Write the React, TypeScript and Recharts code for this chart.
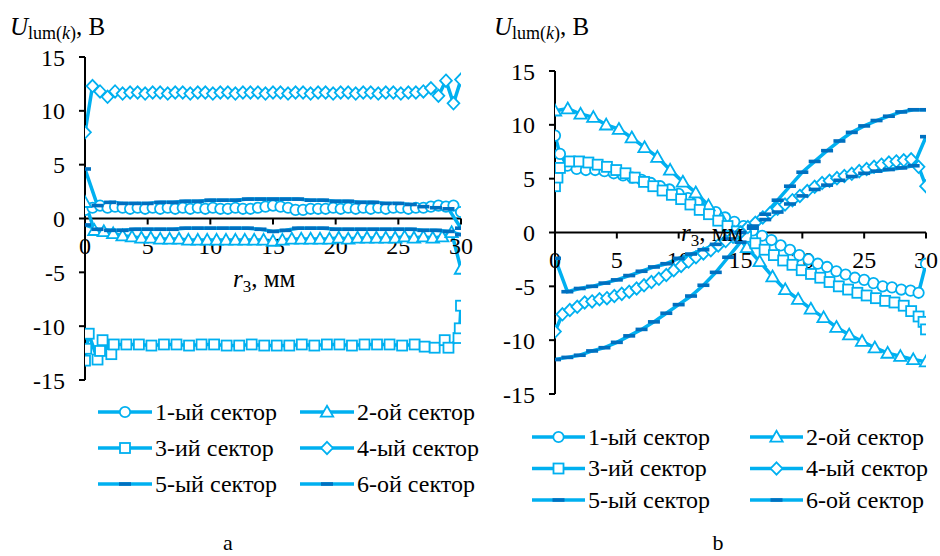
import React from 'react';
import { LineChart, Line, XAxis, YAxis, ReferenceLine, ReferenceDot, Legend } from 'recharts';

const LIGHT = '#00B0F0';
const DARK = '#0070C0';
const FONT = "'Liberation Serif', 'Times New Roman', Times, serif";

const SERIES_NAMES = ['1-ый сектор', '2-ой сектор', '3-ий сектор', '4-ый сектор', '5-ый сектор', '6-ой сектор'];
const MARKERS = ['circle', 'triangle', 'square', 'diamond', 'dash', 'dash'];
const X_TICKS = [0, 5, 10, 15, 20, 25, 30];
const Y_TICKS = [-15, -10, -5, 0, 5, 10, 15];

// shared position grids (r3, mm)
const X_FINE = [0, 0.6, 1.2, 1.8, 2.4, 3, 3.6, 4.2, 4.8, 5.4, 6, 6.6, 7.2, 7.8, 8.4, 9, 9.6, 10.2, 10.8, 11.4, 12, 12.6, 13.2, 13.8, 14.4, 15, 15.6, 16.2, 16.8, 17.4, 18, 18.6, 19.2, 19.8, 20.4, 21, 21.6, 22.2, 22.8, 23.4, 24, 24.6, 25.2, 25.8, 26.4, 27, 27.6, 28.2, 28.8, 29.4, 30];
const X_MID = [0, 0.75, 1.5, 2.25, 3, 3.75, 4.5, 5.25, 6, 6.75, 7.5, 8.25, 9, 9.75, 10.5, 11.25, 12, 12.75, 13.5, 14.25, 15, 15.75, 16.5, 17.25, 18, 18.75, 19.5, 20.25, 21, 21.75, 22.5, 23.25, 24, 24.75, 25.5, 26.25, 27, 27.75, 28.5, 29.25, 30];
const X_INT = [0, 1, 2, 3, 4, 5, 6, 7, 8, 9, 10, 11, 12, 13, 14, 15, 16, 17, 18, 19, 20, 21, 22, 23, 24, 25, 26, 27, 28, 29, 30];

// ---- panel a ----
const A1_Y = [0.8, 1.0, 1.2, 1.0, 1.1, 1.0, 0.9, 1.0, 0.9, 1.0, 0.9, 1.0, 0.9, 1.0, 0.9, 1.0, 0.9, 1.0, 0.9, 0.9, 1.0, 0.9, 0.9, 1.0, 1.1, 1.2, 1.1, 1.0, 0.8, 0.8, 0.9, 0.9, 0.9, 1.0, 0.9, 1.0, 0.9, 1.0, 0.9, 1.0, 0.9, 1.0, 1.0, 0.9, 1.0, 1.0, 1.1, 1.2, 1.1, 1.2, 0.6];
const A2_Y = [1.5, -1.1, -1.2, -1.4, -1.6, -1.7, -1.8, -1.8, -1.9, -1.9, -1.9, -2.0, -2.0, -2.0, -2.0, -2.0, -2.0, -2.0, -2.0, -2.0, -2.1, -2.0, -1.9, -1.9, -1.9, -1.9, -1.9, -1.8, -1.9, -1.8, -1.8, -1.8, -1.8, -1.8, -1.7, -1.8, -1.7, -1.8, -1.7, -1.3, -4.7];
const A3_X = [0, 0.1, 0.3, 1.0, 1.2, 1.4, 2.1, 2.3, 3.3, 4.3, 5.3, 6.3, 7.3, 8.3, 9.3, 10.3, 11.3, 12.3, 13.3, 14.3, 15.3, 16.3, 17.3, 18.3, 19.3, 20.3, 21.3, 22.3, 23.3, 24.3, 25.3, 26.3, 27.1, 27.9, 28.7, 29.0, 29.8, 29.9, 30];
const A3_Y = [-13.2, -12.1, -10.7, -13.1, -12.3, -11.3, -12.6, -11.7, -11.7, -11.7, -11.8, -11.7, -11.7, -11.8, -11.7, -11.7, -11.8, -11.8, -11.7, -11.8, -11.8, -11.8, -11.7, -11.8, -11.7, -11.7, -11.8, -11.7, -11.7, -11.7, -11.8, -11.7, -11.9, -12.0, -11.3, -12.0, -11.1, -10.2, -8.1];
const A4_Y = [8.0, 12.3, 11.8, 11.3, 11.8, 11.6, 11.7, 11.7, 11.6, 11.7, 11.7, 11.6, 11.7, 11.7, 11.6, 11.7, 11.7, 11.6, 11.7, 11.7, 11.6, 11.7, 11.7, 11.7, 11.6, 11.7, 11.7, 11.6, 11.7, 11.7, 11.6, 11.7, 11.7, 11.6, 11.7, 11.7, 11.6, 11.7, 11.7, 11.6, 11.7, 11.7, 11.6, 11.7, 11.7, 11.8, 12.1, 11.4, 12.8, 10.7, 12.9];
const A5_Y = [4.6, 1.2, 1.5, 1.4, 1.4, 1.4, 1.5, 1.5, 1.6, 1.6, 1.7, 1.7, 1.7, 1.8, 1.8, 1.8, 1.8, 1.8, 1.7, 1.7, 1.6, 1.6, 1.5, 1.5, 1.4, 1.4, 1.3, 1.1, 1.0, 0.9, -0.9];
const A6_Y = [-0.6, -1.0, -1.1, -1.1, -1.0, -1.0, -1.0, -1.0, -0.9, -0.9, -0.9, -0.9, -0.9, -0.9, -1.0, -1.2, -1.1, -0.9, -0.9, -0.9, -1.0, -1.0, -1.0, -1.0, -1.0, -1.0, -1.0, -1.1, -1.1, -1.2, -1.5];

// ---- panel b ----
const B1_X = [0, 0.4, 1, 1.75, 2.5, 3.25, 4, 4.75, 5.5, 6.25, 7, 7.75, 8.5, 9.25, 10, 10.75, 11.5, 12.25, 13, 13.75, 14.5, 15.25, 16, 16.75, 17.5, 18.25, 19, 19.75, 20.5, 21.25, 22, 22.75, 23.5, 24.25, 25, 25.75, 26.5, 27.25, 28, 28.75, 29.4, 30];
const B1_Y = [9.0, 7.3, 6.2, 5.9, 5.8, 5.8, 5.7, 5.5, 5.3, 5.1, 4.9, 4.6, 4.3, 4.0, 3.6, 3.2, 2.8, 2.3, 1.9, 1.4, 1.0, 0.6, 0.2, -0.3, -0.7, -1.2, -1.6, -2.1, -2.5, -2.9, -3.2, -3.6, -3.9, -4.2, -4.4, -4.7, -5.0, -5.1, -5.3, -5.4, -5.6, -2.9];
const B2_X = [0, 1.03, 2.07, 3.1, 4.14, 5.17, 6.21, 7.24, 8.28, 9.31, 10.34, 11.38, 12.41, 13.45, 14.48, 15.52, 16.55, 17.59, 18.62, 19.66, 20.69, 21.72, 22.76, 23.79, 24.83, 25.86, 26.9, 27.93, 28.97, 30];
const B2_Y = [11.3, 11.5, 11.0, 10.7, 10.0, 9.6, 8.8, 7.9, 7.0, 5.8, 4.7, 3.7, 2.5, 1.3, 0.0, -1.4, -2.7, -4.1, -5.3, -6.2, -7.1, -7.9, -8.8, -9.5, -10.1, -10.7, -11.2, -11.5, -11.8, -12.0];
const B3_X = [0, 0.2, 0.4, 1.2, 1.95, 2.7, 3.45, 4.2, 4.95, 5.7, 6.45, 7.2, 7.95, 8.7, 9.45, 10.2, 10.95, 11.7, 12.45, 13.2, 13.95, 14.7, 15.45, 16.2, 16.95, 17.7, 18.45, 19.2, 19.95, 20.7, 21.45, 22.2, 22.95, 23.7, 24.45, 25.2, 25.95, 26.7, 27.45, 28.2, 28.8, 29.4, 29.8, 30];
const B3_Y = [4.3, 5.1, 6.0, 6.6, 6.6, 6.5, 6.3, 6.1, 5.8, 5.5, 5.1, 4.7, 4.3, 3.9, 3.5, 3.1, 2.6, 2.1, 1.7, 1.1, 0.6, 0.1, -0.4, -1.0, -1.6, -2.1, -2.6, -3.0, -3.5, -3.85, -4.2, -4.6, -5.0, -5.3, -5.6, -5.85, -6.1, -6.35, -6.5, -6.8, -7.3, -7.8, -8.3, -9.0];
const B4_Y = [-9.2, -7.6, -7.2, -6.9, -6.5, -6.4, -6.2, -6.1, -5.9, -5.7, -5.5, -5.2, -4.9, -4.6, -4.3, -3.95, -3.5, -3.1, -2.7, -2.3, -1.95, -1.65, -1.2, -0.8, -0.4, 0.0, 0.5, 0.9, 1.4, 1.8, 2.2, 2.6, 3.0, 3.4, 3.85, 4.25, 4.6, 4.8, 5.05, 5.25, 5.45, 5.7, 5.9, 6.1, 6.3, 6.5, 6.6, 6.7, 6.8, 6.1, 4.3];
const B5_Y = [-11.8, -11.6, -11.4, -11.0, -10.7, -10.2, -9.6, -9.0, -8.3, -7.5, -6.7, -5.9, -4.9, -3.7, -2.3, -0.9, 0.4, 1.7, 3.0, 4.3, 5.6, 6.6, 7.6, 8.5, 9.3, 9.9, 10.4, 10.8, 11.2, 11.4, 11.4];
const B6_Y = [-2.4, -5.5, -5.2, -5.0, -4.7, -4.4, -4.0, -3.6, -3.2, -2.9, -2.4, -2.0, -1.6, -1.1, -0.6, 0.0, 0.6, 1.2, 1.9, 2.65, 3.4, 4.0, 4.4, 4.85, 5.2, 5.5, 5.7, 5.85, 6.0, 6.2, 8.9];

type Pt = { x: number; y: number };
const zip = (xs: number[], ys: number[]): Pt[] => xs.map((x, i) => ({ x, y: ys[i] }));

const PANEL_A: Pt[][] = [
  zip(X_FINE, A1_Y), zip(X_MID, A2_Y), zip(A3_X, A3_Y),
  zip(X_FINE, A4_Y), zip(X_INT, A5_Y), zip(X_INT, A6_Y),
];
const PANEL_B: Pt[][] = [
  zip(B1_X, B1_Y), zip(B2_X, B2_Y), zip(B3_X, B3_Y),
  zip(X_FINE, B4_Y), zip(X_INT, B5_Y), zip(X_INT, B6_Y),
];

function renderMarker(kind: string, cx: number, cy: number, key?: string | number) {
  if (cx == null || cy == null || isNaN(cx) || isNaN(cy)) return <g key={key} />;
  const common = { fill: '#fff', stroke: LIGHT, strokeWidth: 1.8 };
  switch (kind) {
    case 'circle':
      return <circle key={key} cx={cx} cy={cy} r={5.2} {...common} />;
    case 'triangle': {
      const s = 6.2;
      return <polygon key={key} points={`${cx},${cy - s} ${cx + s},${cy + s * 0.75} ${cx - s},${cy + s * 0.75}`} {...common} />;
    }
    case 'square':
      return <rect key={key} x={cx - 5} y={cy - 5} width={10} height={10} {...common} />;
    case 'diamond': {
      const s = 6.2;
      return <polygon key={key} points={`${cx},${cy - s} ${cx + s * 0.95},${cy} ${cx},${cy + s} ${cx - s * 0.95},${cy}`} {...common} />;
    }
    default:
      return <rect key={key} x={cx - 6} y={cy - 1.8} width={12} height={3.6} fill={DARK} />;
  }
}

type LegendLayout = { width: number; height: number; colX: number[]; rowY: number[]; lineW: number };
const LEG_A: LegendLayout = { width: 380, height: 110, colX: [8, 210], rowY: [22, 58, 94], lineW: 54 };
const LEG_B: LegendLayout = { width: 420, height: 100, colX: [7, 225], rowY: [22, 53.5, 85], lineW: 53 };

function LegendBox({ layout }: { layout: LegendLayout }) {
  return (
    <svg width={layout.width} height={layout.height} style={{ display: 'block', overflow: 'visible' }}>
      {SERIES_NAMES.map((name, i) => {
        const col = i % 2;
        const row = Math.floor(i / 2);
        const x0 = layout.colX[col];
        const y = layout.rowY[row];
        return (
          <g key={name}>
            <line x1={x0} y1={y} x2={x0 + layout.lineW} y2={y} stroke={LIGHT} strokeWidth={3.5} />
            {renderMarker(MARKERS[i], x0 + layout.lineW / 2, y)}
            <text x={x0 + layout.lineW + 3} y={y} dy="0.33em" style={{ fontFamily: FONT }} fontSize={24} fill="#000">{name}</text>
          </g>
        );
      })}
    </svg>
  );
}

type PanelProps = {
  series: Pt[][];
  width: number;
  margin: { top: number; right: number; bottom: number; left: number };
  legend: LegendLayout;
  legendPos: { left: number; top: number };
};

function Panel({ series, width, margin, legend, legendPos }: PanelProps) {
  return (
    <LineChart width={width} height={556} margin={margin}>
      <XAxis type="number" dataKey="x" domain={[0, 30]} ticks={X_TICKS} hide allowDataOverflow />
      <YAxis
        type="number"
        domain={[-15, 15]}
        ticks={Y_TICKS}
        interval={0}
        width={85}
        tickSize={6}
        tickMargin={14}
        axisLine={{ stroke: '#000', strokeWidth: 2 }}
        tickLine={{ stroke: '#000', strokeWidth: 2 }}
        tick={{ fontSize: 24, fill: '#000', style: { fontFamily: FONT } }}
        allowDataOverflow
      />
      <ReferenceLine y={0} stroke="#000" strokeWidth={2} />
      {X_TICKS.map((t) => (
        <ReferenceDot
          key={`xt${t}`}
          x={t}
          y={0}
          r={0}
          shape={(p: any) => (
            <g>
              <line x1={p.cx} y1={p.cy} x2={p.cx} y2={p.cy + 6} stroke="#000" strokeWidth={2} />
              <text x={p.cx} y={p.cy + 35} textAnchor="middle" style={{ fontFamily: FONT }} fontSize={24} fill="#000">{t}</text>
            </g>
          )}
        />
      ))}
      {series.map((data, i) => (
        <Line
          key={SERIES_NAMES[i]}
          name={SERIES_NAMES[i]}
          data={data}
          dataKey="y"
          type="linear"
          stroke={LIGHT}
          strokeWidth={3.5}
          dot={(p: any) => renderMarker(MARKERS[i], p.cx, p.cy, `${i}-${p.index}`)}
          activeDot={false}
          isAnimationActive={false}
        />
      ))}
      <Legend
        layout="horizontal"
        verticalAlign="middle"
        align="center"
        wrapperStyle={{ position: 'absolute', left: legendPos.left, top: legendPos.top, width: legend.width, height: legend.height }}
        content={() => <LegendBox layout={legend} />}
      />
    </LineChart>
  );
}

function AxisTitle({ x, y }: { x: number; y: number }) {
  return (
    <text x={x} y={y} style={{ fontFamily: FONT }} fontSize={25} fill="#000">
      <tspan fontStyle="italic">U</tspan>
      <tspan fontSize={18} dy={4}>lum(</tspan>
      <tspan fontSize={18} fontStyle="italic">k</tspan>
      <tspan fontSize={18}>)</tspan>
      <tspan dy={-4}>, В</tspan>
    </text>
  );
}

function XTitle({ x, y }: { x: number; y: number }) {
  return (
    <text x={x} y={y} style={{ fontFamily: FONT }} fontSize={25} fill="#000">
      <tspan fontStyle="italic">r</tspan>
      <tspan fontSize={17} dy={5}>3</tspan>
      <tspan dy={-5}>, мм</tspan>
    </text>
  );
}

export default function App() {
  return (
    <div style={{ position: 'absolute', left: 0, top: 0, width: 940, height: 556, background: '#fff', overflow: 'hidden', fontFamily: FONT }}>
      <div style={{ position: 'absolute', left: 0, top: 0 }}>
        <Panel series={PANEL_A} width={485} margin={{ top: 57, right: 24, bottom: 176, left: 0 }} legend={LEG_A} legendPos={{ left: 90, top: 390 }} />
      </div>
      <div style={{ position: 'absolute', left: 470, top: 0 }}>
        <Panel series={PANEL_B} width={470} margin={{ top: 71, right: 14, bottom: 162, left: 0 }} legend={LEG_B} legendPos={{ left: 55, top: 415 }} />
      </div>
      <svg width={940} height={556} style={{ position: 'absolute', left: 0, top: 0, pointerEvents: 'none' }}>
        <AxisTitle x={10} y={35} />
        <AxisTitle x={494} y={35} />
        <XTitle x={233} y={287} />
        <XTitle x={681} y={241} />
        <text x={228} y={550} textAnchor="middle" style={{ fontFamily: FONT }} fontSize={22} fill="#000">a</text>
        <text x={718} y={550} textAnchor="middle" style={{ fontFamily: FONT }} fontSize={22} fill="#000">b</text>
      </svg>
    </div>
  );
}
